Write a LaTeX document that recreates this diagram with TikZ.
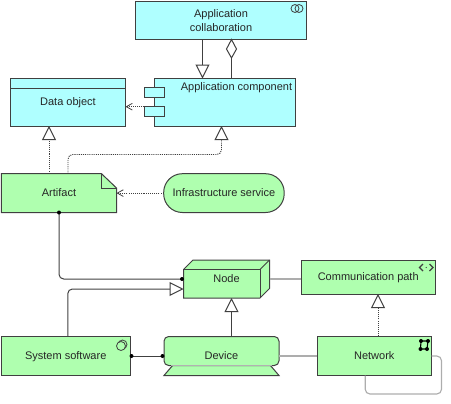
\documentclass[tikz,border=0pt]{standalone}
\usepackage{fontspec}
\setmainfont{Liberation Sans}
\usetikzlibrary{arrows.meta,calc}
\definecolor{appc}{HTML}{AFFFFF}
\definecolor{infc}{HTML}{AFFFAF}
\definecolor{edge}{HTML}{404040}
\tikzset{
 x=0.75pt,y=-0.75pt,
 lab/.style={font=\fontsize{8.25}{9.9}\selectfont,align=center,inner sep=0pt,outer sep=0pt,text=black!85},
 one/.style={text height=6.8pt,text depth=1.6pt},
 shp/.style={draw=edge,line width=0.75pt,line join=miter},
 app/.style={shp,fill=appc},
 inf/.style={shp,fill=infc},
 box/.style 2 args={rectangle,lab,minimum width=#1*0.75pt,minimum height=#2*0.75pt,anchor=north west},
 rel/.style={draw=edge,line width=0.75pt,rounded corners=3.5pt},
 dot/.style={draw=edge,line width=0.7pt,dash pattern=on 0.8pt off 0.8pt,rounded corners=3.5pt},
 assoc/.style={draw=black!32,line width=0.85pt,rounded corners=3.5pt},
 gen/.style={-{Triangle[open,fill=white,length=10.5pt,width=10.5pt,line width=0.75pt]}},
 access/.style={-{Straight Barb[length=4.5pt,width=5pt,line width=0.6pt]}},
 blob/.style={fill=black},
 icon/.style={draw=edge,line width=0.6pt},
}
\begin{document}
\begin{tikzpicture}
\useasboundingbox (0,0) rectangle (451,404);
% Application collaboration
\node[app,box={171}{38}] (collab) at (135.5,1.5) {Application\\collaboration};
\draw[icon] (295,8.5) circle (4);
\draw[icon] (299,8.5) circle (4);
% Data object
\node[app,box={115}{47.5},one] (dobj) at (10.5,78.5) {Data object};
\draw[shp] (10.5,88) -- (125.5,88);
% Application component
\node[app,box={141}{47.5}] (comp) at (154.5,78.5) {};
\node[app,box={20}{9.5}] (taba) at (144.5,87.5) {};
\node[app,box={20}{9.5}] (tabb) at (144.5,106.7) {};
\node[lab,one] (compl) at (236.5,87.5) {Application component};
% Artifact
\draw[inf] (1.5,173.7) -- (101.5,173.7) -- (116.5,188) -- (116.5,212.5) -- (1.5,212.5) -- cycle;
\draw[shp] (101.5,173.7) -- (101.5,188) -- (116.5,188);
\node[box={115}{38.8},one] (art) at (1.5,173.7) {Artifact};
% Infrastructure service
\node[inf,box={120.5}{38.8},one,rounded corners=14pt] (isvc) at (163.7,173.7) {Infrastructure service};
% Node
\draw[inf] (183.5,269.5) -- (193,260) -- (269.5,260) -- (269.5,288.5) -- (260,298) -- (183.5,298) -- cycle;
\draw[shp] (183.5,269.5) -- (260,269.5) -- (260,298);
\draw[shp] (260,269.5) -- (269.5,260);
\node[box={86}{38},one] (node) at (183.5,260) {Node};
% Communication path
\node[inf,box={134.5}{34},one] (cpath) at (301,260) {Communication path};
\draw[icon,line width=0.8pt] (423,264) -- (419.5,267.5) -- (423,271);
\draw[icon,line width=0.8pt] (429.5,264) -- (433,267.5) -- (429.5,271);
\fill[edge] (426.2,267.5) circle (0.7);
% System software
\node[inf,box={128.5}{39},one] (sys) at (1.5,336.5) {System software};
\draw[icon] (122.5,344.5) circle (4.5);
\draw[icon,fill=infc] (121,346) circle (4.5);
% Device
\draw[inf] (164,375.5) -- (173,365) -- (270,365) -- (279,375.5) -- cycle;
\draw[inf,rounded corners=3.5pt] (164,336.5) rectangle (279,365.5);
\draw[black!30,line width=0.6pt] (171,365.5) -- (272,365.5);
\node[box={115}{39},one] (dev) at (164,336.5) {Device};
% Network
\node[inf,box={114.5}{39},one] (net) at (317,336.5) {Network};
\draw[black,line width=0.8pt] (421,341) -- (428,341) -- (427,349) -- (420.5,349) -- cycle;
\foreach \p in {(421,341),(428,341),(427,349),(420.5,349)} \fill \p circle (2);
% Connectors
\draw[rel,gen] ($(collab.south)+(-18.5,0)$) coordinate (c1) -- (c1 |- comp.north);
\draw[rel] ($(collab.south)+(10.5,18.5)$) coordinate (c2) -- (c2 |- comp.north);
\draw[shp,fill=white] ($(collab.south)+(10.5,0)$) -- ++(5,9.5) -- ++(-5,9) -- ++(-5,-9) -- cycle;
\draw[dot,access] (tabb.north west) -- (tabb.north west -| dobj.east);
\draw[dot,gen] ($(art.north)+(-10,0)$) coordinate (a1) -- (a1 |- dobj.south);
\coordinate (b1) at (221.5,154.5);
\draw[dot,gen] ($(art.north)+(9,0)$) coordinate (a2) -- (a2 |- b1) -- (b1) -- (b1 |- comp.south);
\draw[dot,access] (isvc.west) -- (art.east);
\coordinate (nw) at ($(node.west)+(-1.5,0)$);
\draw[rel] (art.south) |- (nw);
\fill[blob] (art.south) circle (2);
\fill[blob] (nw) circle (2);
\draw[rel,gen] ($(sys.north)+(2,0)$) |- ($(node.west)+(0,10)$);
\draw[rel,gen] ($(dev.north)+(10,0)$) coordinate (d1) -- (d1 |- node.south);
\draw[rel] ($(sys.east)+(0,0.5)$) -- ($(dev.west)+(0,0.5)$);
\fill[blob] ($(sys.east)+(1.5,0)$) circle (2);
\fill[blob] ($(dev.west)+(-1.5,0)$) circle (2);
\draw[assoc] (node.east) -- (node.east -| cpath.west);
\draw[assoc] (dev.east) -- (net.west);
\draw[dot,gen] ($(net.north)+(3.75,0)$) coordinate (n1) -- (n1 |- cpath.south);
\coordinate (lc) at (441.5,394);
\draw[assoc] (net.east) -| (lc) -| ($(net.south)+(-9,0)$);
\end{tikzpicture}
\end{document}
